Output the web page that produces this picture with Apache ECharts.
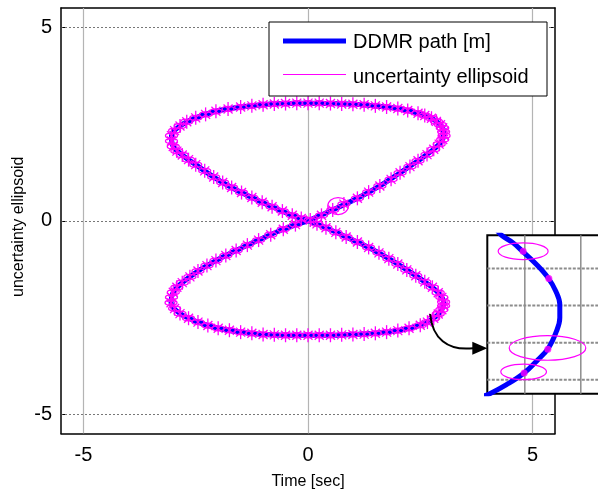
<!DOCTYPE html>
<html><head><meta charset="utf-8">
<script src="https://cdn.jsdelivr.net/npm/echarts@6/dist/echarts.min.js"></script>
<style>html,body{margin:0;padding:0;background:#fff}#c{width:598px;height:493px}</style>
</head><body><div id="c"></div>
<script>
// ---------- data ----------
const xTicks = [-5, 0, 5];
const yTicks = [-5, 0, 5];
const legendNames = ['DDMR path [m]', 'uncertainty ellipsoid'];
const xName = 'Time [sec]';
const yName = 'uncertainty ellipsoid';

const pathPoints = [
  [0,0],[0.55,0.28],[1.1,0.58],[1.6,0.9],[2.05,1.24],[2.45,1.55],[2.8,1.85],[3.0,2.1],[3.02,2.3],
  [2.95,2.48],[2.75,2.65],[2.45,2.78],[2.0,2.9],[1.5,2.97],[1.0,3.01],[0.5,3.03],[0,3.04],
  [-0.5,3.03],[-1.0,3.0],[-1.5,2.94],[-2.05,2.83],[-2.5,2.66],[-2.85,2.45],[-3.04,2.2],[-3.0,1.92],
  [-2.8,1.7],[-2.5,1.45],[-2.1,1.13],[-1.7,0.86],[-1.25,0.6],[-0.8,0.36],[-0.35,0.14],[0,0],
  [0.4,-0.18],[0.85,-0.42],[1.35,-0.69],[1.8,-0.98],[2.2,-1.27],[2.6,-1.58],[2.9,-1.86],[3.02,-2.1],
  [2.98,-2.3],[2.8,-2.52],[2.5,-2.7],[2.0,-2.84],[1.5,-2.91],[1.0,-2.94],[0.5,-2.96],[0,-2.96],
  [-0.5,-2.96],[-1.0,-2.94],[-1.5,-2.88],[-2.0,-2.78],[-2.45,-2.62],[-2.85,-2.4],[-3.05,-2.12],
  [-3.0,-1.85],[-2.8,-1.6],[-2.45,-1.3],[-2.05,-1.03],[-1.6,-0.77],[-1.1,-0.5],[-0.55,-0.22],[0,0]
];

const markerCenters = [
  [0.05,0.02],[0.3,0.14],[0.55,0.28],[0.8,0.43],[1.1,0.58],[1.35,0.74],[1.6,0.9],[1.85,1.07],[2.05,1.24],
  [2.27,1.4],[2.45,1.55],[2.65,1.71],[2.8,1.85],[2.92,1.98],[3.0,2.1],[3.03,2.2],[3.02,2.3],[3.0,2.4],
  [2.95,2.48],[2.86,2.57],[2.75,2.65],[2.6,2.72],[2.45,2.78],[2.22,2.85],[2.0,2.9],[1.75,2.94],[1.5,2.97],
  [1.25,3.0],[1.0,3.01],[0.75,3.02],[0.5,3.03],[0.25,3.04],[0,3.04],
  [-0.25,3.04],[-0.5,3.03],[-0.75,3.02],[-1.0,3.0],[-1.25,2.97],[-1.5,2.94],[-1.78,2.89],[-2.05,2.83],
  [-2.28,2.75],[-2.5,2.66],[-2.7,2.56],[-2.85,2.45],[-2.97,2.33],[-3.04,2.2],[-3.04,2.06],[-3.0,1.92],
  [-2.92,1.8],[-2.8,1.7],[-2.66,1.58],[-2.5,1.45],[-2.3,1.29],[-2.1,1.13],[-1.9,0.99],[-1.7,0.86],
  [-1.48,0.73],[-1.25,0.6],[-1.02,0.48],[-0.8,0.36],[-0.57,0.25],[-0.35,0.14],[-0.15,0.06],
  [0.2,-0.08],[0.4,-0.18],[0.62,-0.3],[0.85,-0.42],[1.1,-0.55],[1.35,-0.69],[1.58,-0.83],[1.8,-0.98],
  [2.0,-1.12],[2.2,-1.27],[2.4,-1.42],[2.6,-1.58],[2.77,-1.72],[2.9,-1.86],[2.98,-1.98],[3.02,-2.1],
  [3.02,-2.2],[2.98,-2.3],[2.9,-2.41],[2.8,-2.52],[2.66,-2.62],[2.5,-2.7],[2.25,-2.78],[2.0,-2.84],
  [1.75,-2.88],[1.5,-2.91],[1.25,-2.93],[1.0,-2.94],[0.75,-2.95],[0.5,-2.96],[0.25,-2.96],[0,-2.96],
  [-0.25,-2.96],[-0.5,-2.96],[-0.75,-2.95],[-1.0,-2.94],[-1.25,-2.91],[-1.5,-2.88],[-1.75,-2.83],
  [-2.0,-2.78],[-2.23,-2.71],[-2.45,-2.62],[-2.66,-2.52],[-2.85,-2.4],[-2.97,-2.27],[-3.05,-2.12],
  [-3.04,-1.98],[-3.0,-1.85],[-2.92,-1.72],[-2.8,-1.6],[-2.63,-1.45],[-2.45,-1.3],[-2.25,-1.16],
  [-2.05,-1.03],[-1.83,-0.9],[-1.6,-0.77],[-1.35,-0.63],[-1.1,-0.5],[-0.83,-0.36],[-0.55,-0.22],[-0.28,-0.1]
];

// [cx, cy, rx, ry] in data units
const bigEllipses = [[0.67,0.38,0.23,0.22]];

// inset (zoomed view) in its own units
const insetCurve = [
  [0.5,5.05],[0.584,4.90],[0.791,4.695],[0.970,4.45],[1.209,4.11],[1.416,3.75],[1.554,3.39],[1.625,3.03],
  [1.625,2.67],[1.566,2.31],[1.416,1.84],[1.209,1.50],[0.988,1.18],[0.673,0.865],[0.375,0.62],[0.25,0.55]
];
const insetEllipses = [[0.970,4.47,0.446,0.225],[1.405,1.857,0.684,0.333],[0.979,1.21,0.408,0.21]];
const insetDots = [[0.970,4.47],[1.429,3.73],[1.411,1.82],[0.988,1.18]];
const insetXGrid = [1, 2];
const insetYGrid = [1, 2, 3, 4];
const arrowFrom = [2.72, -2.41];   // main-plot data units
const arrowTo = [0.33, 1.85];      // inset units (left border)

// ---------- styling ----------
const BLUE = '#0000ff', MAG = '#ff00ff';
const FONT = 'Liberation Sans, Arial, sans-serif';

function markerItem(params, api) {
  const p = api.coord([api.value(0), api.value(1)]);
  const st = { stroke: MAG, lineWidth: 1.3, fill: null };
  return { type: 'group', children: [
    { type: 'ellipse', shape: { cx: p[0], cy: p[1], rx: 6, ry: 2.5 }, style: st },
    { type: 'line', shape: { x1: p[0], y1: p[1] - 7, x2: p[0], y2: p[1] + 7 }, style: st },
    { type: 'line', shape: { x1: p[0] - 4.5, y1: p[1] - 4.5, x2: p[0] + 4.5, y2: p[1] + 4.5 }, style: st },
    { type: 'line', shape: { x1: p[0] - 4.5, y1: p[1] + 4.5, x2: p[0] + 4.5, y2: p[1] - 4.5 }, style: st }
  ]};
}
function ellipseItem(params, api) {
  const c = api.coord([api.value(0), api.value(1)]);
  const s = api.size([api.value(2), api.value(3)]);
  return { type: 'ellipse', shape: { cx: c[0], cy: c[1], rx: s[0], ry: s[1] },
           style: { stroke: MAG, lineWidth: 1.2, fill: null } };
}
// full-height / full-width guide lines inside the inset, placed through its axes
function vGridItem(params, api) {
  const cs = params.coordSys;
  const x = api.coord([api.value(0), 0])[0];
  return { type: 'line', shape: { x1: x, y1: cs.y, x2: x, y2: cs.y + cs.height },
           style: { stroke: '#8c8c8c', lineWidth: 1.5 } };
}
function hGridItem(params, api) {
  const cs = params.coordSys;
  const y = api.coord([1, api.value(0)])[1];
  return { type: 'line', shape: { x1: cs.x, y1: y, x2: cs.x + cs.width, y2: y },
           style: { stroke: '#8c8c8c', lineWidth: 2, lineDash: [3, 1.5] } };
}

const chart = echarts.init(document.getElementById('c'), null, { renderer: 'canvas' });

const mainAxisCommon = {
  type: 'value', min: -5.5, max: 5.5,
  axisLine: { show: true, onZero: false, lineStyle: { color: '#000', width: 1.5 } },
  axisTick: { show: true, inside: true, length: 4, customValues: xTicks, lineStyle: { color: '#000', width: 1 } },
  splitLine: { show: false }
};

const option = {
  animation: false,
  backgroundColor: '#fff',
  grid: [
    { left: 61, top: 8, width: 494, height: 425.5, outerBoundsMode: 'none' },
    { left: 487.3, top: 235.3, width: 121.5, height: 158.4, show: true, zlevel: 1,
      backgroundColor: '#fff', borderColor: '#000', borderWidth: 2, outerBoundsMode: 'none' }
  ],
  xAxis: [
    Object.assign({}, mainAxisCommon, { gridIndex: 0, position: 'bottom',
      axisLabel: { show: true, customValues: xTicks, margin: 12, fontSize: 20, color: '#000', fontFamily: FONT },
      name: xName, nameLocation: 'middle', nameGap: 40, nameMoveOverlap: false,
      nameTextStyle: { fontSize: 16, color: '#000', fontFamily: FONT } }),
    Object.assign({}, mainAxisCommon, { gridIndex: 0, position: 'top', axisLabel: { show: false } }),
    { type: 'value', gridIndex: 1, min: 0.33, max: 2.5, show: false, zlevel: 1 }
  ],
  yAxis: [
    Object.assign({}, mainAxisCommon, { gridIndex: 0, position: 'left',
      axisTick: Object.assign({}, mainAxisCommon.axisTick, { customValues: yTicks }),
      axisLabel: { show: true, customValues: yTicks, margin: 9, fontSize: 20, color: '#000', fontFamily: FONT },
      name: yName, nameLocation: 'middle', nameGap: 34, nameMoveOverlap: false, nameRotate: 90,
      nameTextStyle: { fontSize: 16, color: '#000', fontFamily: FONT, padding: [0, 12, 0, 0] } }),
    Object.assign({}, mainAxisCommon, { gridIndex: 0, position: 'right',
      axisTick: Object.assign({}, mainAxisCommon.axisTick, { customValues: yTicks }),
      axisLabel: { show: false } }),
    { type: 'value', gridIndex: 1, min: 0.62, max: 4.9, show: false, zlevel: 1 }
  ],
  series: [
    { name: legendNames[0], type: 'line', xAxisIndex: 0, yAxisIndex: 0, data: pathPoints,
      smooth: 0.35, showSymbol: false, z: 6, lineStyle: { color: BLUE, width: 5 },
      markLine: { silent: true, symbol: 'none', label: { show: false },
        data: xTicks.map(v => ({ xAxis: v, lineStyle: { color: '#b4b4b4', width: 1.2, type: 'solid' } }))
          .concat(yTicks.map(v => ({ yAxis: v, lineStyle: { color: '#555', width: 0.8, type: [2, 2] } }))) } },
    { name: legendNames[1], type: 'custom', xAxisIndex: 0, yAxisIndex: 0, data: markerCenters,
      renderItem: markerItem, z: 7, silent: true },
    { type: 'custom', xAxisIndex: 0, yAxisIndex: 0, data: bigEllipses, renderItem: ellipseItem, z: 8, silent: true },
    // inset
    { type: 'custom', xAxisIndex: 2, yAxisIndex: 2, data: insetXGrid.map(v => [v]), renderItem: vGridItem,
      encode: { x: 0 }, zlevel: 1, z: 3, silent: true },
    { type: 'custom', xAxisIndex: 2, yAxisIndex: 2, data: insetYGrid.map(v => [v]), renderItem: hGridItem,
      encode: { y: 0 }, zlevel: 1, z: 3, silent: true },
    { type: 'line', xAxisIndex: 2, yAxisIndex: 2, data: insetCurve, smooth: 0.4, showSymbol: false,
      zlevel: 1, z: 6, clip: true, lineStyle: { color: BLUE, width: 5 } },
    { type: 'custom', xAxisIndex: 2, yAxisIndex: 2, data: insetEllipses, renderItem: ellipseItem,
      zlevel: 1, z: 7, silent: true },
    { type: 'scatter', xAxisIndex: 2, yAxisIndex: 2, data: insetDots, symbol: 'circle', symbolSize: 7,
      zlevel: 1, z: 8, itemStyle: { color: MAG }, silent: true }
  ]
};
chart.setOption(option);

// legend box + arrow annotation
const s = chart.convertToPixel({ xAxisIndex: 0, yAxisIndex: 0 }, arrowFrom);
const t = chart.convertToPixel({ xAxisIndex: 2, yAxisIndex: 2 }, arrowTo);
const e = [t[0] - 14, t[1]];
chart.setOption({
  graphic: [
    { type: 'rect', z: 100, shape: { x: 269, y: 22, width: 278, height: 74 },
      style: { fill: '#fff', stroke: '#000', lineWidth: 1 } },
    { type: 'line', z: 101, shape: { x1: 283, y1: 41, x2: 346, y2: 41 }, style: { stroke: BLUE, lineWidth: 5 } },
    { type: 'line', z: 101, shape: { x1: 283, y1: 74.5, x2: 346, y2: 74.5 }, style: { stroke: MAG, lineWidth: 1 } },
    { type: 'text', z: 101, style: { x: 353, y: 42, text: legendNames[0], fill: '#000',
      font: '20px ' + FONT, verticalAlign: 'middle', align: 'left' } },
    { type: 'text', z: 101, style: { x: 353, y: 77, text: legendNames[1], fill: '#000',
      font: '20px ' + FONT, verticalAlign: 'middle', align: 'left' } },
    { type: 'bezierCurve', zlevel: 1, z: 50,
      shape: { x1: s[0], y1: s[1], cpx1: s[0] + 2, cpy1: s[1] + 24, cpx2: e[0] - 26, cpy2: e[1] + 3, x2: e[0], y2: e[1] },
      style: { stroke: '#000', lineWidth: 2, fill: null } },
    { type: 'polygon', zlevel: 1, z: 51,
      shape: { points: [[t[0] - 15, t[1] - 6.5], [t[0], t[1]], [t[0] - 15, t[1] + 6.5]] },
      style: { fill: '#000' } }
  ]
});
</script>
</body></html>
